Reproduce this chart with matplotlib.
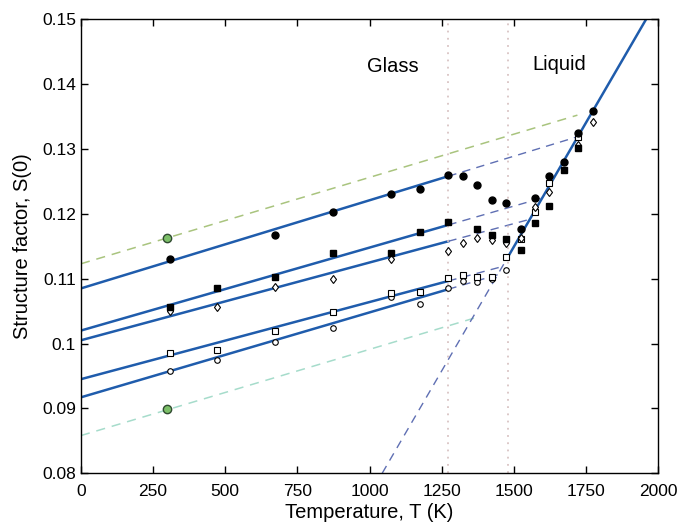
import numpy as np
import matplotlib.pyplot as plt
from matplotlib.ticker import FormatStrFormatter

plt.rcParams['font.family'] = ['Liberation Sans', 'DejaVu Sans']

# measured S(0) for the five series (T in K)
T_fc = [310, 673, 873, 1073, 1173, 1273, 1323, 1373, 1423, 1473, 1523, 1573, 1623, 1673, 1723, 1773]
S_fc = [0.1131, 0.1168, 0.1203, 0.1230, 0.1239, 0.1260, 0.1258, 0.1244, 0.1221, 0.1216,
        0.1177, 0.1224, 0.1258, 0.1280, 0.1324, 0.1359]

T_fs = [310, 473, 673, 873, 1073, 1173, 1273, 1373, 1423, 1473, 1523, 1573, 1623, 1673, 1723]
S_fs = [0.1057, 0.1085, 0.1102, 0.1139, 0.1140, 0.1172, 0.1188, 0.1177, 0.1168, 0.1162,
        0.1144, 0.1186, 0.1212, 0.1268, 0.1301]

T_od = [310, 473, 673, 873, 1073, 1273, 1323, 1373, 1423, 1473, 1523, 1573, 1623, 1723, 1773]
S_od = [0.1050, 0.1057, 0.1087, 0.1100, 0.1130, 0.1142, 0.1155, 0.1163, 0.1160, 0.1155,
        0.1163, 0.1211, 0.1234, 0.1306, 0.1341]

T_os = [310, 473, 673, 873, 1073, 1173, 1273, 1323, 1373, 1423, 1473, 1523, 1573, 1623, 1723]
S_os = [0.0985, 0.0990, 0.1019, 0.1049, 0.1078, 0.1079, 0.1101, 0.1106, 0.1103, 0.1103,
        0.1134, 0.1162, 0.1203, 0.1247, 0.1318]

T_oc = [310, 473, 673, 873, 1073, 1173, 1273, 1323, 1373, 1423, 1473]
S_oc = [0.0958, 0.0974, 0.1002, 0.1024, 0.1071, 0.1061, 0.1086, 0.1096, 0.1095, 0.1099, 0.1113]

# room temperature reference points
T_ref = [298, 298]
S_ref = [0.1163, 0.0899]

# linear fits S = a + b*T
glass_a = [0.1085, 0.1020, 0.1005, 0.0945, 0.0917]
glass_b = [1.36e-5, 1.28e-5, 1.20e-5, 1.19e-5, 1.31e-5]
liq_a, liq_b = 0.00004, 7.66e-5
ref_a = [0.1123, 0.0858]
ref_b = [1.333e-5, 1.33e-5]
ref_end = [1720, 1370]

Tg, Tm = 1273, 1478

blue = '#1f5cac'
dash_blue = '#5f6fb3'
fig, ax = plt.subplots(figsize=(6.8, 5.24), dpi=100)
fig.subplots_adjust(left=0.119, right=0.968, top=0.963, bottom=0.097)

# reference dashed lines
for a, b, te, c in zip(ref_a, ref_b, ref_end, ['#a9c47e', '#a6dccb']):
    t = np.array([0, te])
    ax.plot(t, a + b * t, color=c, lw=1.1, dashes=(6, 4.5))

# glass fits: solid to Tg, dashed up to the liquid line
for a, b in zip(glass_a, glass_b):
    t = np.array([0, Tg])
    ax.plot(t, a + b * t, color=blue, lw=1.8)
    t_x = (a - liq_a) / (liq_b - b)
    t = np.array([Tg, t_x])
    ax.plot(t, a + b * t, color=dash_blue, lw=1.0, dashes=(6, 4.5))

# liquid fit
t0 = (0.08 - liq_a) / liq_b
t = np.array([t0, Tm])
ax.plot(t, liq_a + liq_b * t, color=dash_blue, lw=1.0, dashes=(6, 4.5))
t = np.array([Tm, 2000])
ax.plot(t, liq_a + liq_b * t, color=blue, lw=1.8)

for tv in (Tg, Tm):
    ax.axvline(tv, color='#d9c4c4', lw=1.3, dashes=(1, 3))

ax.plot(T_oc, S_oc, 'o', mfc='white', mec='black', mew=0.8, ms=4.0, ls='none')
ax.plot(T_os, S_os, 's', mfc='white', mec='black', mew=0.8, ms=3.8, ls='none')
ax.plot(T_od, S_od, 'd', mfc='white', mec='black', mew=0.8, ms=4.5, ls='none')
ax.plot(T_fs, S_fs, 's', mfc='black', mec='black', ms=4.2, ls='none')
ax.plot(T_fc, S_fc, 'o', mfc='black', mec='black', ms=5, ls='none')
ax.plot(T_ref, S_ref, 'o', mfc='#7cbf68', mec='#2f4a30', mew=1.0, ms=6, ls='none')

ax.text(1081, 0.1427, 'Glass', fontsize=14.5, ha='center', va='center')
ax.text(1657, 0.1430, 'Liquid', fontsize=14.5, ha='center', va='center')

ax.set_xlim(0, 2000)
ax.set_ylim(0.08, 0.15)
ax.set_xticks(np.arange(0, 2001, 250))
ax.set_yticks(np.arange(0.08, 0.1501, 0.01))
ax.yaxis.set_major_formatter(FormatStrFormatter('%g'))
ax.tick_params(direction='in', top=True, right=True, labelsize=12.5, length=5, width=1)
ax.tick_params(axis='x', pad=8)
ax.tick_params(axis='y', pad=3.5)
for s in ax.spines.values():
    s.set_linewidth(1.0)
ax.set_xlabel('Temperature, T (K)', fontsize=14.5, labelpad=3)
ax.set_ylabel('Structure factor, S(0)', fontsize=14.5, labelpad=7)

plt.savefig('out.png', dpi=100)
